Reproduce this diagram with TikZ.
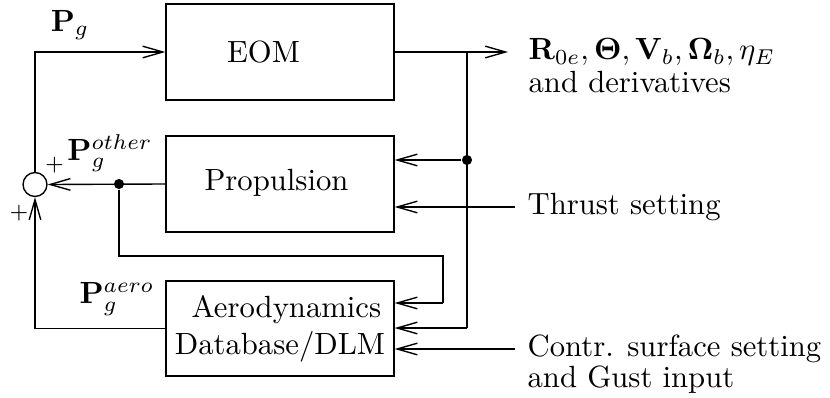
\documentclass[tikz,border=0pt]{standalone}
\usepackage{amsmath}
\usetikzlibrary{arrows.meta}
\begin{document}
\begin{tikzpicture}[x=0.326pt,y=-0.326pt,
  blk/.style={draw, line width=0.45pt, minimum width=74.3pt, minimum height=31.3pt, inner sep=0pt},
  arr/.style={-{Straight Barb[length=6.6pt,width=3.8pt,line width=0.45pt]}},
  ln/.style={line width=0.45pt},
  dot/.style={circle, fill, inner sep=0pt, minimum size=3.3pt},
  lbl/.style={inner sep=0pt}]
\useasboundingbox (0,0) rectangle (830,397);
\node[blk] (eom) at (280,52) {\raisebox{-0.8pt}{EOM}\kern10.8pt};
\node[blk] (prop) at (280,184) {\raisebox{2.5pt}{Propulsion}\kern2.3pt};
\node[blk, minimum height=31pt, align=center] (aero) at (280,328.5) {\hspace*{4.2pt}Aerodynamics\\Database/DLM};
\node[draw, circle, minimum size=7.8pt, inner sep=0pt, line width=0.45pt] (sum) at (35,184.5) {};
\node[dot] (d1) at (467,160) {};
\node[dot] (d2) at (119,184) {};
\coordinate (out) at (508,52);
\coordinate (br) at (467,52);
\coordinate (bb) at (467,328);
\coordinate (t1) at (515,207);
\coordinate (c1) at (515,349);
\coordinate (l1) at (119,256);
\coordinate (l2) at (443,256);
\coordinate (l3) at (443,303);

\draw[ln,arr] (sum.north) -- (sum.north |- eom.west) -- (eom.west);
\draw[ln,arr] (eom.east) -- (out);
\draw[ln] (br) -- (bb);
\draw[ln,arr] (bb) -- (bb -| aero.east);
\draw[ln,arr] (d1) -- (d1 -| prop.east);
\draw[ln,arr] (t1) -- (t1 -| prop.east);
\draw[ln,arr] (c1) -- (c1 -| aero.east);
\draw[ln,arr] (d2 -| prop.west) -- (sum.east);
\draw[ln] (d2) -- (l1) -- (l2) -- (l3);
\draw[ln,arr] (l3) -- (l3 -| aero.east);
\draw[ln,arr] (aero.west) -- (aero.west -| sum) -- (sum.south);

\node[lbl, anchor=north west, align=left] (outtxt) at (528,38) {$\mathbf{R}_{0e},\mathbf{\Theta},\mathbf{V}_b,\mathbf{\Omega}_b,\eta_E$\\[-1.2pt]and derivatives};
\node[lbl, anchor=west] (thr) at (527,207) {Thrust setting};
\node[lbl, anchor=north west, align=left] (ctr) at (527,334) {Contr. surface setting\\[-1.9pt]and Gust input};
\node[lbl] (pg) at (70,25) {$\mathbf{P}_g$};
\node[lbl] (pgo) at (110,153) {$\mathbf{P}_g^{other}$};
\node[lbl] (pga) at (117,299) {$\mathbf{P}_g^{aero}$};
\node[lbl, font=\scriptsize] (p1) at (54.5,165) {$+$};
\node[lbl, font=\scriptsize] (p2) at (19,213) {$+$};
\end{tikzpicture}
\end{document}
